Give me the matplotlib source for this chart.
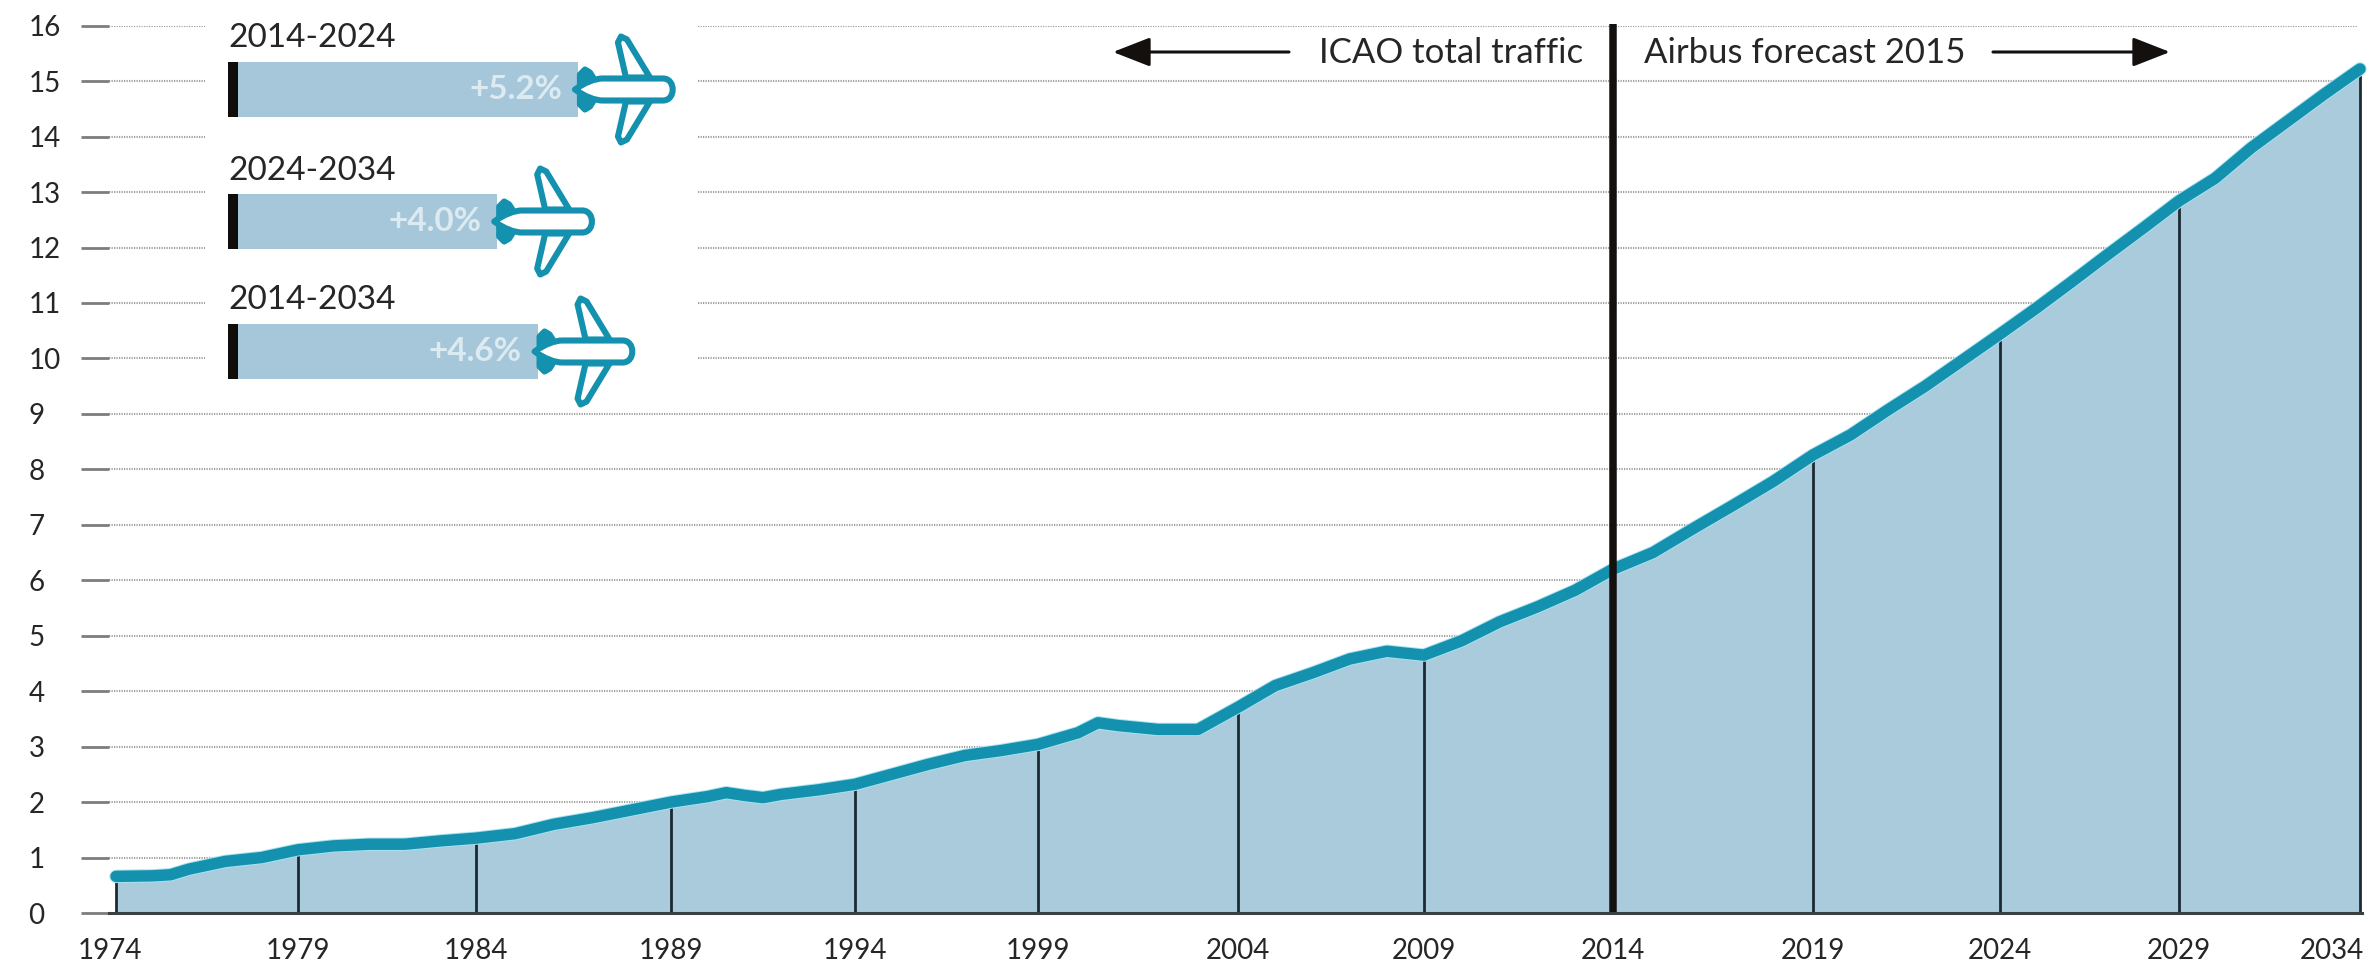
import numpy as np
import matplotlib
matplotlib.use("Agg")
import matplotlib.pyplot as plt
from matplotlib.path import Path
from matplotlib.patches import PathPatch, FancyArrowPatch
from matplotlib.transforms import Affine2D, ScaledTranslation

plt.rcParams['font.family'] = ['Lato', 'DejaVu Sans']

# ---------- data ----------
years = [1974, 1975, 1975.5, 1976, 1977, 1978, 1979, 1980, 1981, 1982, 1983,
         1984, 1985, 1986, 1987, 1988, 1989, 1990, 1990.5, 1991, 1991.5, 1992, 1993,
         1994, 1995, 1996, 1997, 1998, 1999, 2000, 2000.5, 2001, 2002, 2003,
         2004, 2005, 2006, 2007, 2008, 2009, 2010, 2011, 2012, 2013,
         2014, 2015, 2016, 2017, 2018, 2019, 2020, 2021, 2022, 2023,
         2024, 2025, 2026, 2027, 2028, 2029, 2030, 2031, 2032, 2033, 2034]
traffic = [0.66, 0.67, 0.69, 0.79, 0.93, 1.00, 1.14, 1.21, 1.24, 1.24, 1.30,
           1.35, 1.43, 1.60, 1.72, 1.86, 2.00, 2.10, 2.17, 2.12, 2.08, 2.14, 2.22,
           2.32, 2.50, 2.68, 2.84, 2.93, 3.04, 3.25, 3.43, 3.38, 3.31, 3.31,
           3.71, 4.10, 4.33, 4.58, 4.72, 4.65, 4.91, 5.25, 5.52, 5.82,
           6.20, 6.50, 6.93, 7.35, 7.78, 8.26, 8.62, 9.07, 9.50, 9.97,
           10.44, 10.90, 11.38, 11.87, 12.35, 12.84, 13.25, 13.80, 14.28, 14.76,
           15.22]
tick_years = [1974, 1979, 1984, 1989, 1994, 1999, 2004, 2009, 2014, 2019, 2024, 2029, 2034]
y_ticks = list(range(0, 17))
periods = ["2014-2024", "2024-2034", "2014-2034"]
growth = [5.2, 4.0, 4.6]
growth_labels = ["+5.2%", "+4.0%", "+4.6%"]

# ---------- layout (reference pixels) ----------
W, H = 2372, 968
TICK_PX = [116, 298, 476, 671, 855, 1038, 1238, 1424, 1613, 1813, 2000, 2179, 2360]
FILL = '#A9CBDC'
LINE = '#1391AE'
HALO = '#A8E2EE'
DARK = '#1B2A33'
BLACK = '#14100E'
TEXT = '#262626'
ROW = '#A0A0A0'
ROW_STYLE = [(0, (0.6, 0.6))]


def fx(px):
    return px / W


def fy(py):
    return 1 - py / H


knot_years = np.array([1960] + tick_years + [2050], dtype=float)
knot_px = np.array([116 - 14 * 36.4] + TICK_PX + [2360 + 16 * 36.2], dtype=float)


def forward(x):
    return np.interp(x, knot_years, knot_px)


def inverse(p):
    return np.interp(p, knot_px, knot_years)


fig = plt.figure(figsize=(W / 100, H / 100), dpi=100, facecolor='white')
L, R, T, B = 109, 2362, 25.7, 913
ax = fig.add_axes([fx(L), fy(B), fx(R - L), (B - T) / H])
ax.set_xscale('function', functions=(forward, inverse))
ax.set_xlim(inverse(L), inverse(R))
ax.set_ylim(0, 16)

# dotted rows
for v in y_ticks[1:]:
    if v >= 10:
        spans = [(L, 205), (698, 2357)]
    else:
        spans = [(L, 2357)]
    for a, b in spans:
        ax.hlines(v, inverse(a), inverse(b), color=ROW, lw=1.5, linestyles=ROW_STYLE, zorder=1)

ax.fill_between(years, traffic, 0, color=FILL, lw=0, zorder=2)
drops = [y for y in tick_years if y != 2014]
ax.vlines(drops, 0, [traffic[years.index(y)] for y in drops], color=DARK, lw=2.0, zorder=3)
ax.plot(years, traffic, color=HALO, lw=9.6, solid_capstyle='round', solid_joinstyle='round',
        clip_on=False, zorder=3.5)
ax.plot(years, traffic, color=LINE, lw=8.2, solid_capstyle='round', solid_joinstyle='round',
        clip_on=False, zorder=4)
ax.vlines(2014, 0, 16.03, color=BLACK, lw=5.4, zorder=5, clip_on=False)

for s in ['top', 'left', 'right']:
    ax.spines[s].set_visible(False)
ax.spines['bottom'].set_color('#3A3F42')
ax.spines['bottom'].set_linewidth(2.2)
ax.spines['bottom'].set_zorder(6)

ax.set_yticks(y_ticks)
ax.set_yticklabels([str(v) for v in y_ticks], fontsize=20, color=TEXT, ha='left')
ax.tick_params(axis='y', direction='out', length=20, width=2.0, color='#7D7D7D', pad=38)
ax.get_yticklines()[0].set_color('#3A3F42')
ax.set_xticks(tick_years)
ax.set_xticks([], minor=True)
ax.set_xticklabels([str(y) for y in tick_years], fontsize=20, color=TEXT)
ax.tick_params(axis='x', length=0, pad=18)
xl = ax.get_xticklabels()
xl[0].set_transform(xl[0].get_transform() + ScaledTranslation(-6 / 100, 0, fig.dpi_scale_trans))
xl[-1].set_transform(xl[-1].get_transform() + ScaledTranslation(-28 / 100, 0, fig.dpi_scale_trans))

# ---------- growth bars ----------
PX_PER_PCT = 67.3
BAR_TOP = 40
BAR_BOTTOM = 400
bar_ax = fig.add_axes([fx(228), fy(BAR_BOTTOM), 6 * PX_PER_PCT / W, (BAR_BOTTOM - BAR_TOP) / H])
bar_ax.set_xlim(0, 6)
bar_ax.set_ylim(BAR_BOTTOM, BAR_TOP)
bar_ax.axis('off')
bar_ax.patch.set_alpha(0)
centers = [89.5, 221.5, 351.5]
title_y = [38, 171, 300]
bar_ax.barh(centers, growth, height=55, color='#A6C7D9', zorder=2)
bar_ax.barh(centers, [10 / PX_PER_PCT] * 3, height=55, color='#100C0A', zorder=3)

body = Path([(2, 0), (12, -7), (22, -11), (30, -11), (90, -11), (103, -11), (103, 11), (90, 11),
             (30, 11), (22, 11), (12, 7), (2, 0), (2, 0)],
            [Path.MOVETO, Path.CURVE4, Path.CURVE4, Path.CURVE4, Path.LINETO, Path.CURVE4, Path.CURVE4,
             Path.CURVE4, Path.LINETO, Path.CURVE4, Path.CURVE4, Path.CURVE4, Path.CLOSEPOLY])
wing_up = Path([(53, -12), (45, -47), (48, -53), (54, -50), (77, -12), (53, -12)],
               [Path.MOVETO] + [Path.LINETO] * 4 + [Path.CLOSEPOLY])
wing_dn = Path([(53, 12), (45, 47), (48, 53), (54, 50), (77, 12), (53, 12)],
               [Path.MOVETO] + [Path.LINETO] * 4 + [Path.CLOSEPOLY])
tail = Path([(7, 0), (7, -15), (12, -20), (17, -17), (22, -9), (22, 9), (17, 17), (12, 20), (7, 15), (7, 0)],
            [Path.MOVETO] + [Path.LINETO] * 8 + [Path.CLOSEPOLY])

for per, g, lab, cy, ty in zip(periods, growth, growth_labels, centers, title_y):
    bar_ax.text(0, ty, per, fontsize=24, color=TEXT, ha='left', va='center')
    bar_ax.text(g - 16 / PX_PER_PCT, cy, lab, fontsize=24, fontweight='bold', color='#DCEAF1',
                ha='right', va='center', zorder=4)
    ox, oy = bar_ax.transData.transform((g, cy))
    tr = Affine2D().scale(1, -1).translate(ox - 5, oy)
    for p, fc, z in [(wing_up, 'white', 5), (wing_dn, 'white', 5), (tail, LINE, 6), (body, 'white', 7)]:
        fig.add_artist(PathPatch(p, facecolor=fc, edgecolor=LINE, lw=4.4, joinstyle='round',
                                 transform=tr, zorder=z))

# ---------- annotations ----------
fig.text(fx(1583), fy(53), "ICAO total traffic", fontsize=25, color=TEXT, ha='right', va='center')
fig.text(fx(1644), fy(53), "Airbus forecast 2015", fontsize=25, color=TEXT, ha='left', va='center')
style = "-|>,head_length=2.3,head_width=0.9"
for a, b in [((1289, 52), (1113, 52)), ((1993, 52), (2170, 52))]:
    fig.add_artist(FancyArrowPatch(
        (fx(a[0]), fy(a[1])), (fx(b[0]), fy(b[1])), transform=fig.transFigure, arrowstyle=style,
        mutation_scale=10, lw=2.2, color=BLACK, shrinkA=0, shrinkB=0))

fig.savefig("out.png", dpi=100, facecolor='white')
